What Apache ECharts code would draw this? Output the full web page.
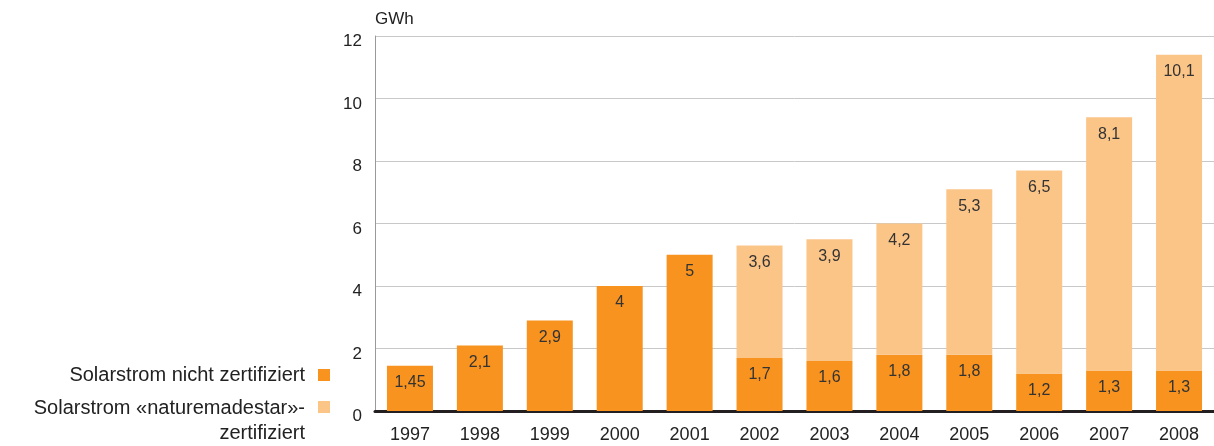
<!DOCTYPE html>
<html>
<head>
<meta charset="utf-8">
<script src="https://cdn.jsdelivr.net/npm/echarts@6/dist/echarts.min.js"></script>
<style>
  html, body { margin: 0; padding: 0; background: #fff; }
  #chart { width: 1214px; height: 446px; }
</style>
</head>
<body>
<div id="chart"></div>
<script>
const years = ['1997', '1998', '1999', '2000', '2001', '2002', '2003', '2004', '2005', '2006', '2007', '2008'];
const notCertified = [1.45, 2.1, 2.9, 4, 5, 1.7, 1.6, 1.8, 1.8, 1.2, 1.3, 1.3];
const certified = [null, null, null, null, null, 3.6, 3.9, 4.2, 5.3, 6.5, 8.1, 10.1];
const legendLines = [
    ['Solarstrom nicht zertifiziert'],
    ['Solarstrom «naturemadestar»-', 'zertifiziert']
];

const fontFamily = '"Liberation Sans", Arial, sans-serif';
const darkOrange = '#f7931e';
const lightOrange = '#fbc588';

const chart = echarts.init(document.getElementById('chart'));

const fmt = (p) => (p.value == null ? '' : String(p.value).replace('.', ','));

const labelStyle = {
    show: true,
    position: 'insideTop',
    distance: 9,
    color: '#333',
    fontSize: 16,
    fontFamily: fontFamily,
    formatter: fmt
};

// legend drawn by hand: text right-aligned, swatch on the right
const legendText = (text, y) => ({
    type: 'text',
    x: 305,
    y: y,
    style: { text: text, fill: '#222', fontSize: 20, fontFamily: fontFamily, align: 'right', verticalAlign: 'middle' }
});

const option = {
    animation: false,
    textStyle: { fontFamily: fontFamily },
    grid: { left: 375, right: -6, top: 36, bottom: 35, containLabel: false },
    xAxis: {
        type: 'category',
        data: years,
        axisTick: { show: false },
        axisLine: { lineStyle: { color: '#231f20', width: 3 } },
        axisLabel: { color: '#222', fontSize: 18, margin: 15 }
    },
    yAxis: {
        type: 'value',
        min: 0,
        max: 12,
        interval: 2,
        name: 'GWh',
        nameLocation: 'end',
        nameGap: 8,
        nameTextStyle: { color: '#222', fontSize: 17, align: 'left' },
        axisLine: { show: true, lineStyle: { color: '#999', width: 1 } },
        axisTick: { show: false },
        // numbers sit a little below their grid line
        axisLabel: { color: '#222', fontSize: 17, margin: 13, verticalAlign: 'top', lineHeight: 11 },
        splitLine: { lineStyle: { color: '#c8c8c8', width: 1 } }
    },
    series: [
        {
            name: legendLines[0].join(' '),
            type: 'bar',
            stack: 'total',
            barWidth: 46,
            itemStyle: { color: darkOrange },
            label: labelStyle,
            data: notCertified
        },
        {
            name: legendLines[1].join(' '),
            type: 'bar',
            stack: 'total',
            barWidth: 46,
            itemStyle: { color: lightOrange },
            label: labelStyle,
            data: certified
        }
    ],
    graphic: [
        legendText(legendLines[0][0], 375),
        { type: 'rect', shape: { x: 318, y: 369, width: 12, height: 12 }, style: { fill: darkOrange } },
        legendText(legendLines[1][0], 408),
        legendText(legendLines[1][1], 433),
        { type: 'rect', shape: { x: 318, y: 401, width: 12, height: 12 }, style: { fill: lightOrange } }
    ]
};

chart.setOption(option);
</script>
</body>
</html>
